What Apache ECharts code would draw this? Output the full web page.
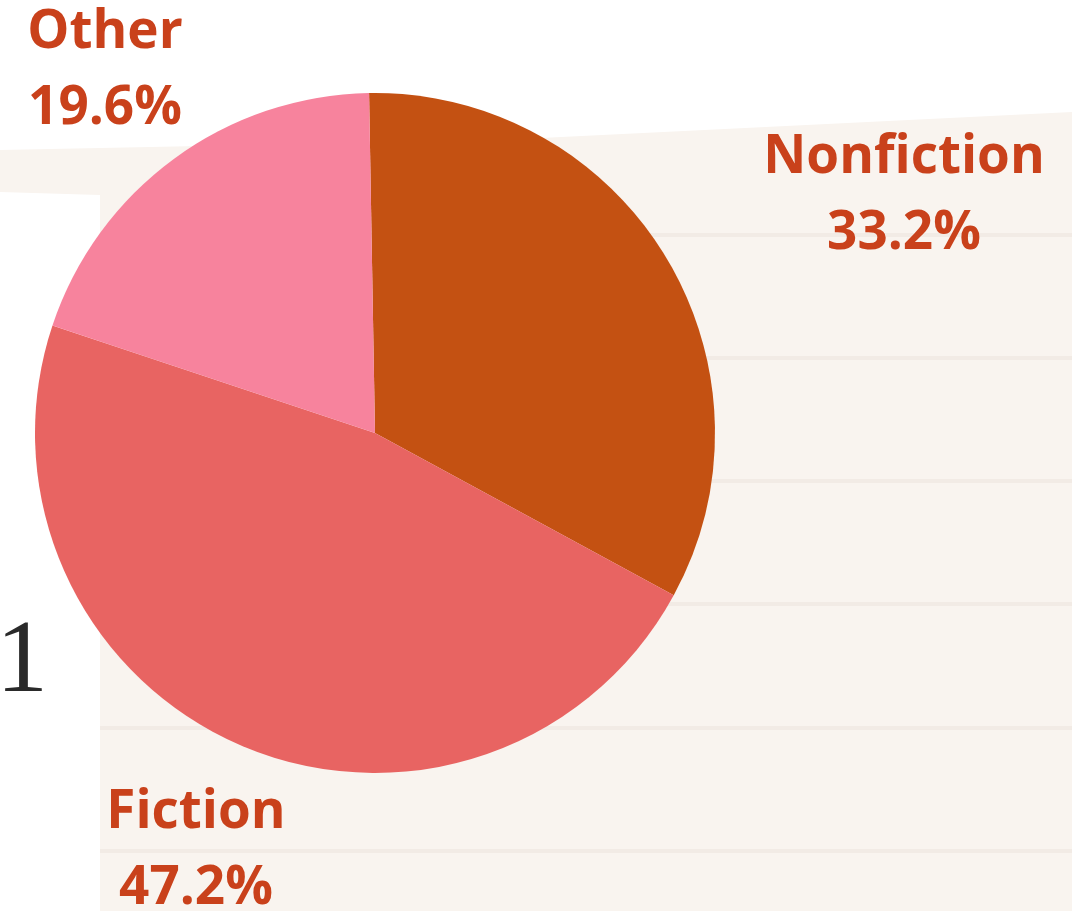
<!DOCTYPE html>
<html>
<head>
<meta charset="utf-8">
<script src="https://cdn.jsdelivr.net/npm/echarts@6/dist/echarts.min.js"></script>
<style>
  html, body { margin: 0; padding: 0; background: #fff; }
  #pie { width: 1072px; height: 911px; }
</style>
</head>
<body>
<div id="pie"></div>
<script>
// data
var categories = ['Nonfiction', 'Fiction', 'Other'];
var shares = [33.2, 47.2, 19.6];
var colors = ['#C45112', '#E86462', '#F7839D'];

// where each label sits (centre of the two-line block)
var labelPos = {
  Nonfiction: [904, 196],
  Fiction: [196, 851],
  Other: [105, 71]
};

var myChart = echarts.init(document.getElementById('pie'));

// background: cream notepaper with faint rules
var ruleYs = [235, 358, 481, 604, 728, 851];
var graphics = [
  { type: 'polygon', silent: true, z: -10,
    shape: { points: [[0, 150], [500, 140], [1072, 112], [1072, 911], [100, 911], [100, 195], [0, 192]] },
    style: { fill: '#F9F4EF' } }
];
ruleYs.forEach(function (y) {
  graphics.push({ type: 'rect', silent: true, z: -9,
    shape: { x: 100, y: y - 2, width: 972, height: 4 },
    style: { fill: '#F2EBE5' } });
});
graphics.push({ type: 'text', silent: true, left: -4, top: 612,
  style: { text: '1', font: '104px "Liberation Serif", serif', fill: '#2a2a2a' } });

var option = {
  backgroundColor: '#ffffff',
  animation: false,
  graphic: graphics,
  series: [
    {
      type: 'pie',
      center: [375, 433],
      radius: 340,
      startAngle: 91,
      clockwise: true,
      data: categories.map(function (name, i) {
        return { name: name, value: shares[i], itemStyle: { color: colors[i] } };
      }),
      label: {
        show: true,
        position: 'outside',
        formatter: '{b}\n{d}%',
        color: '#C9411B',
        fontFamily: '"Open Sans", sans-serif',
        fontWeight: 'bold',
        fontSize: 53,
        lineHeight: 76,
        align: 'center',
        overflow: 'none'
      },
      labelLine: { show: false },
      labelLayout: function (params) {
        var p = labelPos[categories[params.dataIndex]];
        return { x: p[0], y: p[1], align: 'center', verticalAlign: 'middle' };
      }
    }
  ]
};

myChart.setOption(option);
window.addEventListener('resize', function () {
  myChart.resize();
});
</script>
</body>
</html>
